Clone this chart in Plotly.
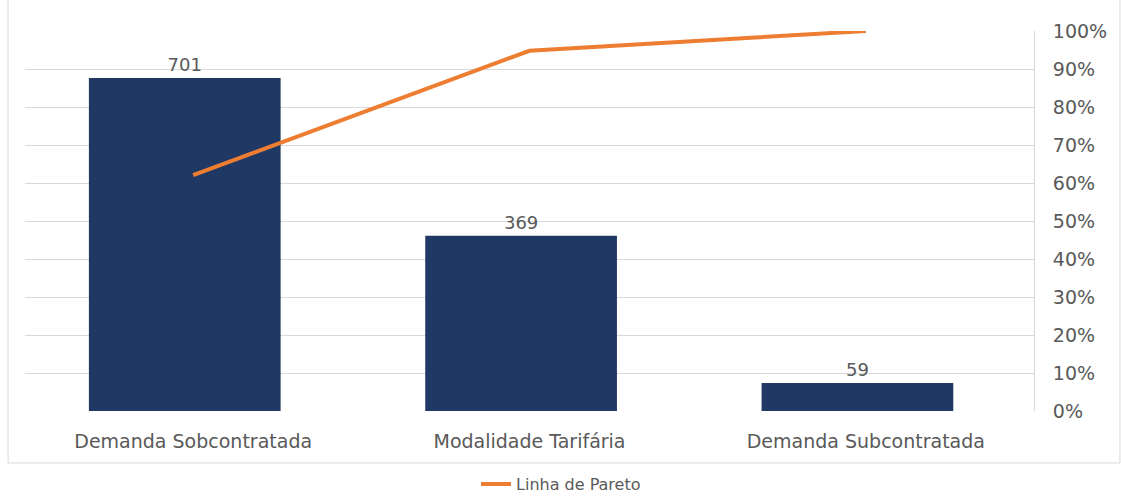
import plotly.graph_objects as go

categorias = ["Demanda Sobcontratada", "Modalidade Tarifária", "Demanda Subcontratada"]
ocorrencias = [701, 369, 59]
pareto_pct = [0.621, 0.948, 1.0]
pct_ticks = [0, 0.1, 0.2, 0.3, 0.4, 0.5, 0.6, 0.7, 0.8, 0.9, 1.0]
pct_labels = ["0%", "10%", "20%", "30%", "40%", "50%", "60%", "70%", "80%", "90%", "100%"]

FONT = "DejaVu Sans"
GREY = "#595959"
GRID = "#d9d9d9"

fig = go.Figure()
fig.add_trace(go.Bar(
    x=categorias, y=ocorrencias, width=0.57, offset=-0.31,
    marker=dict(color="#203864", line=dict(width=0)),
    text=[str(v) for v in ocorrencias], textposition="outside",
    textfont=dict(family=FONT, size=18, color=GREY),
    cliponaxis=False, showlegend=False, name="Ocorrências",
))
fig.add_trace(go.Scatter(
    x=categorias, y=pareto_pct, yaxis="y2", mode="lines",
    line=dict(color="#ED7D31", width=4), name="Linha de Pareto",
))

fig.update_layout(
    width=1121, height=497,
    margin=dict(l=25, r=87, t=31, b=86, autoexpand=False),
    paper_bgcolor="white", plot_bgcolor="white",
    font=dict(family=FONT, size=19, color=GREY),
    xaxis=dict(
        showgrid=False, showline=False, zeroline=False, automargin=False,
        ticks="outside", ticklen=13, tickcolor="rgba(0,0,0,0)",
        tickfont=dict(family=FONT, size=19, color=GREY),
    ),
    yaxis=dict(range=[0, 800], showgrid=False, showticklabels=False,
               zeroline=False, showline=False, automargin=False),
    yaxis2=dict(
        overlaying="y", side="right", range=[0, 1], automargin=False,
        tickvals=pct_ticks, ticktext=pct_labels,
        showgrid=True, gridcolor=GRID, gridwidth=1,
        zeroline=False, showline=True, linecolor=GRID, linewidth=1,
        ticks="outside", ticklen=14, tickcolor="rgba(0,0,0,0)",
        tickfont=dict(family=FONT, size=19, color=GREY),
    ),
    legend=dict(
        orientation="h", x=0.447, xanchor="left",
        yref="container", y=0.026, yanchor="middle",
        font=dict(family=FONT, size=16, color=GREY),
        bgcolor="rgba(0,0,0,0)",
    ),
    shapes=[dict(
        type="rect", xref="paper", yref="paper",
        x0=-0.0168, x1=1.0852, y0=-0.1368, y1=1.3,
        line=dict(color=GRID, width=1), fillcolor="rgba(0,0,0,0)", layer="below",
    )],
)

fig.write_html("out.html")
